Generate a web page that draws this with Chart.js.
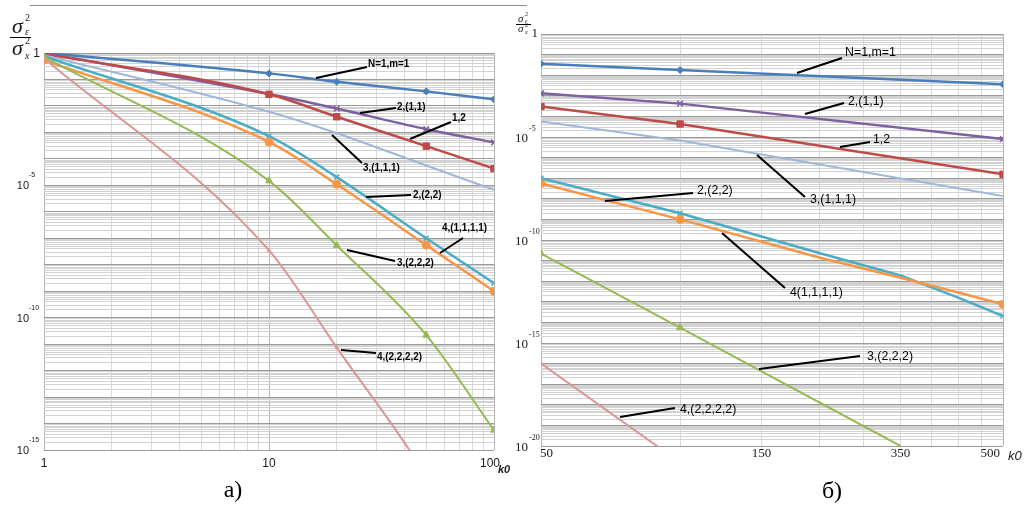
<!DOCTYPE html>
<html>
<head>
<meta charset="utf-8">
<script src="https://cdn.jsdelivr.net/npm/chart.js@4.4.0/dist/chart.umd.min.js"></script>
<style>
  html, body { margin: 0; padding: 0; background: #fff; }
  #wrap { position: relative; width: 1027px; height: 511px; overflow: hidden; }
  #left { position: absolute; left: 0; top: 0; }
  #right { position: absolute; left: 510px; top: 0; }
  #rule { position: absolute; left: 30px; top: 5px; width: 497px; border-top: 1px solid #8c8c8c; }
</style>
</head>
<body>
<div id="wrap">
  <div id="rule"></div>
  <canvas id="left" width="510" height="511"></canvas>
  <canvas id="right" width="517" height="511"></canvas>
</div>
<script>
// k0 values used in both panels (left: 1..100, right: 50..500)
var kValues = [1, 10, 20, 50, 100, 200, 300, 400, 500];

// log10(σε²/σx²), null where nothing is read
var lgN1m1   = [0.00, -0.77, -1.09, -1.45, -1.75, null, null, null, -2.44];
var lg2_11   = [0.00, -1.55, -2.10, -2.88, -3.38, null, null, null, -5.10];
var lg1_2    = [-0.03, -1.56, -2.41, -3.52, -4.37, null, null, null, -6.81];
var lg3_111  = [-0.08, -2.22, -3.03, -4.25, -5.17, null, null, null, -7.86];
var lg4_1111 = [-0.12, -3.14, -4.69, -7.00, -8.70, -10.63, -11.72, -12.80, -13.69];
var lg2_22   = [-0.27, -3.36, -4.96, -7.26, -9.00, -10.85, -11.83, -12.55, -13.12];
var lg3_222  = [-0.15, -4.83, -7.27, -10.66, -14.25, null, -20.0, null, null];
var lg4_2222 = [-0.20, -7.46, -11.13, -16.0, -20.8, null, null, null, null];

var seriesNames = ['N=1,m=1', '2,(1,1)', '1,2', '3,(1,1,1)', '4,(1,1,1,1)', '2,(2,2)', '3,(2,2,2)', '4,(2,2,2,2)'];
var series = [lgN1m1, lg2_11, lg1_2, lg3_111, lg4_1111, lg2_22, lg3_222, lg4_2222];

// axis tick labels
var leftTickValues = [1, 10, 100];
var leftTickLabels = ['1', '10', '100'];
var rightTickValues = [50, 150, 300, 500];
var rightTickLabels = ['50', '150', '350', '500'];
var leftDecades = [-5, -10, -15];
var rightDecades = [-5, -10, -15, -20];

var styles = [
  {color: '#4A7EBB', point: 'rectRot', r: 3.5, w: 2.5},
  {color: '#7D60A0', point: 'crossRot', r: 4, w: 2.5},
  {color: '#BE4B48', point: 'rect', r: 4.5, w: 2.5},
  {color: '#9DB8DA', point: 'circle', r: 0, w: 2},
  {color: '#4BACC6', point: 'crossRot', r: 3.5, w: 2.5},
  {color: '#F79646', point: 'circle', r: 4, w: 2.5},
  {color: '#98B954', point: 'triangle', r: 4, w: 2},
  {color: '#D99694', point: 'triangle', r: 2, w: 2}
];

function pointsFor(lg, kMin, kMax) {
  var pts = [];
  kValues.forEach(function(k, i) {
    if (k >= kMin && k <= kMax && lg[i] !== null) pts.push({x: k, y: Math.pow(10, lg[i])});
  });
  return pts;
}

function makeDatasets(kMin, kMax, markerKs, smooth) {
  return series.map(function(lg, i) {
    var s = styles[i];
    return {
      label: seriesNames[i],
      data: pointsFor(lg, kMin, kMax),
      borderColor: s.color,
      backgroundColor: s.color,
      borderWidth: s.w,
      pointStyle: s.point,
      pointRadius: function(c) { return markerKs.indexOf(c.raw.x) >= 0 ? s.r : 0; },
      pointBorderWidth: s.point === 'crossRot' ? 1.5 : 1,
      pointBorderColor: s.color,
      pointBackgroundColor: s.color,
      tension: smooth ? 0.4 : 0,
      cubicInterpolationMode: smooth ? 'monotone' : 'default',
      order: -i
    };
  });
}

function isDecade(v) {
  var l = Math.log10(v);
  return Math.abs(l - Math.round(l)) < 1e-9;
}

function decadeGrid(eMin, eMax) {
  var out = [];
  for (var e = eMin; e < eMax; e++) {
    for (var m = 1; m <= 9; m++) out.push(m * Math.pow(10, e));
  }
  out.push(Math.pow(10, eMax));
  return out;
}

function logAxis(min, max, grid, colorFn) {
  return {
    type: 'logarithmic',
    min: min,
    max: max,
    afterBuildTicks: function(scale) { scale.ticks = grid.map(function(v) { return {value: v}; }); },
    ticks: {display: false},
    grid: {color: function(c) { return colorFn(c.tick.value); }, lineWidth: 1, drawTicks: false},
    border: {display: false}
  };
}

function yColor(v) { return isDecade(v) ? '#9a9a9a' : '#d2d2d2'; }

// text helpers
function txt(ctx, s, x, y, font, align, sx) {
  ctx.save();
  ctx.font = font;
  ctx.textAlign = align || 'left';
  ctx.textBaseline = 'middle';
  ctx.translate(x, y);
  ctx.scale(sx || 1, 1);
  ctx.fillText(s, 0, 0);
  ctx.restore();
}
function txtBase(ctx, s, x, y, font) {
  ctx.font = font;
  ctx.textAlign = 'left';
  ctx.textBaseline = 'alphabetic';
  ctx.fillText(s, x, y);
}
function leader(ctx, n, dx, font, sx, lw) {
  ctx.strokeStyle = '#000';
  ctx.lineWidth = lw;
  ctx.beginPath();
  ctx.moveTo(n[3] - dx, n[4]);
  ctx.lineTo(n[5] - dx, n[6]);
  ctx.stroke();
  txt(ctx, n[0], n[1] - dx, n[2], font, 'left', sx);
}

// label text, text x, text y, leader x1, y1, x2, y2 (page pixels)
var notesLeft = [
  ['N=1,m=1', 368, 64, 316, 78, 367, 67],
  ['2,(1,1)', 397, 107, 360, 113, 396, 108],
  ['1,2', 452, 118, 410, 139, 451, 122],
  ['3,(1,1,1)', 363, 168, 332, 135, 362, 163],
  ['2,(2,2)', 413, 195, 366, 197, 411, 195],
  ['4,(1,1,1,1)', 442, 228, 440, 253, 463, 238],
  ['3,(2,2,2)', 397, 263, 347, 250, 395, 261],
  ['4,(2,2,2,2)', 377, 357, 341, 350, 376, 353]
];
var notesRight = [
  ['N=1,m=1', 845, 52, 797, 73, 842, 58],
  ['2,(1,1)', 848, 101, 805, 114, 844, 103],
  ['1,2', 873, 139, 840, 147, 870, 142],
  ['3,(1,1,1)', 810, 199, 757, 155, 805, 197],
  ['2,(2,2)', 697, 190, 605, 201, 693, 193],
  ['4(1,1,1,1)', 790, 292, 722, 233, 785, 288],
  ['3,(2,2,2)', 867, 356, 759, 369, 860, 356],
  ['4,(2,2,2,2)', 680, 409, 620, 417, 675, 408]
];

var SANS = '"Liberation Sans", Arial, sans-serif';
var SERIF = '"Liberation Serif", "Times New Roman", serif';

var leftDecor = {
  id: 'leftDecor',
  afterDraw: function(chart) {
    var ctx = chart.ctx, xs = chart.scales.x, ys = chart.scales.y;
    ctx.save();
    ctx.fillStyle = '#1a1a1a';
    leftTickValues.forEach(function(v, i) {
      var x = xs.getPixelForValue(v) + (i === leftTickValues.length - 1 ? -4 : 0);
      txt(ctx, leftTickLabels[i], x, 464, '12px ' + SANS, 'center');
    });
    txt(ctx, 'k0', 498, 470, 'italic bold 11px ' + SANS, 'left');
    txt(ctx, '1', 40, 54, '12px ' + SANS, 'right');
    leftDecades.forEach(function(e) {
      var y = ys.getPixelForValue(Math.pow(10, e));
      txt(ctx, '10', 29, y + 1, '11px ' + SANS, 'right');
      txt(ctx, String(e), 29, y - 10, '7px ' + SANS, 'left');
    });
    // y title  σε² / σx²
    txtBase(ctx, 'σ', 12, 33, 'italic 22px ' + SERIF);
    txtBase(ctx, '2', 25, 21, '10px ' + SERIF);
    txtBase(ctx, 'ε', 25, 35, 'italic 10px ' + SERIF);
    ctx.strokeStyle = '#000'; ctx.lineWidth = 1;
    ctx.beginPath(); ctx.moveTo(10, 37.5); ctx.lineTo(31, 37.5); ctx.stroke();
    txtBase(ctx, 'σ', 12, 55, 'italic 22px ' + SERIF);
    txtBase(ctx, '2', 25, 44, '10px ' + SERIF);
    txtBase(ctx, 'x', 25, 59, 'italic 10px ' + SERIF);
    ctx.fillStyle = '#000';
    notesLeft.forEach(function(n) { leader(ctx, n, 0, 'bold 11px ' + SANS, 0.9, 2); });
    txt(ctx, 'а)', 233, 491, '24px ' + SERIF, 'center');
    ctx.restore();
  }
};

var rightDecor = {
  id: 'rightDecor',
  afterDraw: function(chart) {
    var ctx = chart.ctx, xs = chart.scales.x, ys = chart.scales.y;
    var off = 510;
    ctx.save();
    ctx.fillStyle = '#1a1a1a';
    rightTickValues.forEach(function(v, i) {
      var x = xs.getPixelForValue(v), align = 'center';
      if (i === 0) { align = 'left'; x -= 1; }
      if (i === rightTickValues.length - 1) { align = 'right'; x -= 3; }
      txt(ctx, rightTickLabels[i], x, 454, '13px ' + SERIF, align);
    });
    txt(ctx, 'k0', 1008 - off, 456, 'italic 13px ' + SANS, 'left');
    txt(ctx, '1', 28, 34, '13px ' + SERIF, 'right');
    rightDecades.forEach(function(e) {
      var y = ys.getPixelForValue(Math.pow(10, e));
      txt(ctx, '10', 18, y + 2, '13px ' + SERIF, 'right');
      txt(ctx, String(e), 19, y - 8, '8px ' + SERIF, 'left');
    });
    txtBase(ctx, 'σ', 518 - off, 22, 'italic 11px ' + SERIF);
    txtBase(ctx, '2', 525 - off, 16, '6px ' + SERIF);
    txtBase(ctx, 'ε', 525 - off, 23, 'italic 6px ' + SERIF);
    ctx.strokeStyle = '#000'; ctx.lineWidth = 1;
    ctx.beginPath(); ctx.moveTo(516 - off, 24.5); ctx.lineTo(531 - off, 24.5); ctx.stroke();
    txtBase(ctx, 'σ', 518 - off, 32, 'italic 11px ' + SERIF);
    txtBase(ctx, '2', 525 - off, 27, '6px ' + SERIF);
    txtBase(ctx, 'x', 525 - off, 34, 'italic 6px ' + SERIF);
    ctx.fillStyle = '#000';
    notesRight.forEach(function(n) { leader(ctx, n, off, '13px ' + SANS, 0.95, 2); });
    txt(ctx, 'б)', 832 - off, 492, '24px ' + SERIF, 'center');
    ctx.restore();
  }
};

var leftXGrid = [1, 2, 3, 4, 5, 6, 7, 8, 9, 10, 20, 30, 40, 50, 60, 70, 80, 90, 100];
var rightXGrid = [50, 100, 150, 200, 250, 300, 350, 400, 450, 500];

new Chart(document.getElementById('left'), {
  type: 'line',
  data: {datasets: makeDatasets(1, 100, [1, 10, 20, 50, 100], true)},
  options: {
    responsive: false,
    animation: false,
    devicePixelRatio: 1,
    layout: {padding: {left: 44, right: 16, top: 53, bottom: 61}},
    plugins: {legend: {display: false}, tooltip: {enabled: false}},
    scales: {
      x: logAxis(1, 100, leftXGrid, function(v) { return isDecade(v) ? '#b4b4b4' : '#d9d9d9'; }),
      y: logAxis(1e-15, 1, decadeGrid(-15, 0), yColor)
    }
  },
  plugins: [leftDecor]
});

new Chart(document.getElementById('right'), {
  type: 'line',
  data: {datasets: makeDatasets(50, 500, [50, 100, 500], false)},
  options: {
    responsive: false,
    animation: false,
    devicePixelRatio: 1,
    layout: {padding: {left: 31, right: 24, top: 34, bottom: 65}},
    plugins: {legend: {display: false}, tooltip: {enabled: false}},
    scales: {
      x: logAxis(50, 500, rightXGrid, function(v) { return (v === 50 || v === 500) ? '#b4b4b4' : '#d9d9d9'; }),
      y: logAxis(1e-20, 1, decadeGrid(-20, 0), yColor)
    }
  },
  plugins: [rightDecor]
});
</script>
</body>
</html>
